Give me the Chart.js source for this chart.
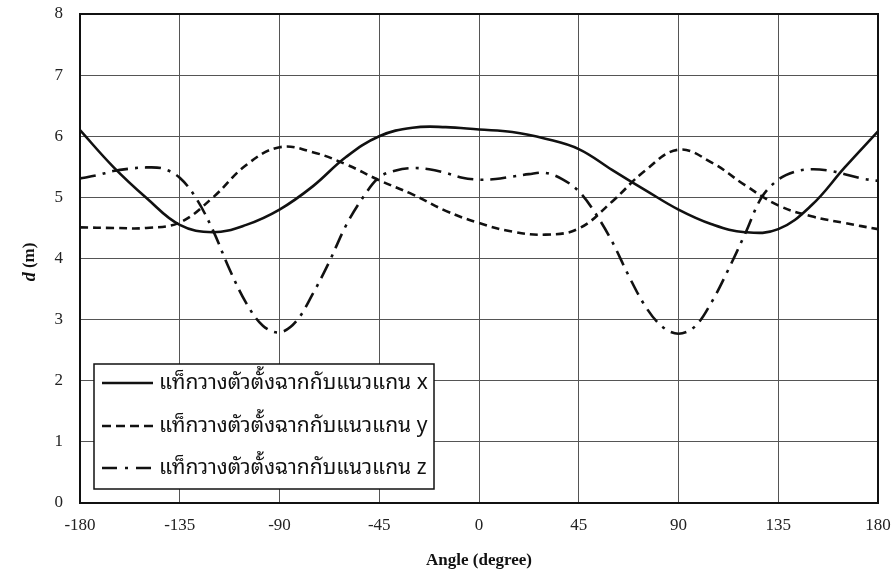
<!DOCTYPE html>
<html><head><meta charset="utf-8">
<script src="https://cdn.jsdelivr.net/npm/chart.js@4/dist/chart.umd.min.js"></script>
<style>html,body{margin:0;padding:0;background:#fff}#wrap{width:894px;height:576px;position:relative}</style>
</head><body><div id="wrap"><canvas id="c" width="894" height="576"></canvas></div>
<script>
// ---- data ----
const anglesXY = [-180,-165,-150,-135,-120,-105,-90,-75,-60,-45,-30,-15,0,15,30,45,60,75,90,105,120,135,150,165,180];
const seriesX  = [6.10,5.50,4.99,4.55,4.43,4.55,4.80,5.18,5.66,6.00,6.14,6.15,6.11,6.07,5.96,5.79,5.45,5.12,4.80,4.56,4.43,4.48,4.87,5.49,6.08];
const seriesY  = [4.51,4.50,4.50,4.59,5.00,5.53,5.82,5.74,5.54,5.28,5.05,4.78,4.58,4.44,4.39,4.49,4.93,5.44,5.78,5.57,5.20,4.87,4.69,4.58,4.48];
const anglesZ  = [-180,-172.5,-165,-157.5,-150,-142.5,-135,-127.5,-120,-112.5,-105,-97.5,-90,-82.5,-75,-67.5,-60,-52.5,-45,-37.5,-30,-22.5,-15,-7.5,0,7.5,15,22.5,30,37.5,45,52.5,60,67.5,75,82.5,90,97.5,105,112.5,120,127.5,135,142.5,150,157.5,165,172.5,180];
const seriesZ  = [5.31,5.36,5.43,5.47,5.49,5.47,5.32,4.98,4.46,3.82,3.27,2.90,2.79,2.97,3.42,3.95,4.54,4.99,5.33,5.44,5.48,5.46,5.40,5.32,5.29,5.30,5.34,5.38,5.40,5.30,5.10,4.74,4.28,3.72,3.22,2.89,2.77,2.89,3.29,3.82,4.40,5.00,5.29,5.42,5.46,5.44,5.38,5.31,5.27];
const xTicks = [-180,-135,-90,-45,0,45,90,135,180];
const yTicks = [0,1,2,3,4,5,6,7,8];
const legendLabels = ['แท็กวางตัวตั้งฉากกับแนวแกน x','แท็กวางตัวตั้งฉากกับแนวแกน y','แท็กวางตัวตั้งฉากกับแนวแกน z'];
const xTitle = 'Angle (degree)';
const yTitleVar = 'd';
const yTitleUnit = ' (m)';

// ---- styles ----
const INK = '#111';
const dashY = [8,5];
const dashZ = [16,7,3,7];
const serif = '"Liberation Serif", "Times New Roman", serif';
const thai = '"Noto Sans Thai Looped", "Loma", "Garuda", "Tahoma", "Noto Sans Thai", "Noto Sans", "DejaVu Sans", sans-serif';

const pts = (xs, ys) => xs.map((a,i)=>({x:a, y:ys[i]}));

const overlay = {
  id:'overlay',
  afterDraw(chart){
    const {ctx, chartArea:a} = chart;
    ctx.save();
    // frame
    ctx.setLineDash([]);
    ctx.strokeStyle = INK; ctx.lineWidth = 2;
    ctx.strokeRect(a.left, a.top, a.right-a.left, a.bottom-a.top);
    // legend
    const bx = 94, by = 364, bw = 340, bh = 125;
    ctx.fillStyle = '#fff';
    ctx.fillRect(bx, by, bw, bh);
    ctx.lineWidth = 1.5; ctx.strokeStyle = INK;
    ctx.strokeRect(bx, by, bw, bh);
    const rows = [19, 62, 104];
    ctx.font = '21px ' + thai;
    ctx.textBaseline = 'middle';
    ctx.textAlign = 'left';
    rows.forEach((ry,i)=>{
      const y = by + ry;
      ctx.beginPath();
      ctx.setLineDash(i===2 ? [15,8,3,8] : (i===1 ? [9,5] : []));
      ctx.lineWidth = 2.5;
      ctx.moveTo(bx+8, y); ctx.lineTo(bx+59, y);
      ctx.stroke();
      ctx.fillStyle = INK;
      ctx.fillText(legendLabels[i], bx+65, y);
    });
    ctx.setLineDash([]);
    // x title
    ctx.fillStyle = INK;
    ctx.font = 'bold 17px ' + serif;
    ctx.textAlign = 'center';
    ctx.fillText(xTitle, (a.left+a.right)/2, 561);
    // y title
    ctx.translate(30, 262);
    ctx.rotate(-Math.PI/2);
    const fItal = 'italic bold 18px ' + serif, fBold = 'bold 17px ' + serif;
    ctx.font = fItal; const w1 = ctx.measureText(yTitleVar).width;
    ctx.font = fBold; const w2 = ctx.measureText(yTitleUnit).width;
    let x0 = -(w1+w2)/2;
    ctx.textAlign = 'left';
    ctx.font = fItal; ctx.fillText(yTitleVar, x0, 0);
    ctx.font = fBold; ctx.fillText(yTitleUnit, x0+w1, 0);
    ctx.restore();
  }
};

new Chart(document.getElementById('c'), {
  type:'line',
  data:{
    datasets:[
      {label:legendLabels[0], data:pts(anglesXY, seriesX), borderColor:INK, borderWidth:2.6, pointRadius:0, tension:0.4, fill:false},
      {label:legendLabels[1], data:pts(anglesXY, seriesY), borderColor:INK, borderWidth:2.6, borderDash:dashY, pointRadius:0, tension:0.4, fill:false},
      {label:legendLabels[2], data:pts(anglesZ, seriesZ), borderColor:INK, borderWidth:2.6, borderDash:dashZ, pointRadius:0, tension:0.35, fill:false}
    ]
  },
  options:{
    responsive:false, animation:false,
    layout:{padding:{top:14, right:16, left:0, bottom:0}},
    plugins:{legend:{display:false}, tooltip:{enabled:false}},
    scales:{
      x:{type:'linear', min:-180, max:180,
        afterBuildTicks:s=>{s.ticks = xTicks.map(v=>({value:v}));},
        afterFit:s=>{s.height = 73; s.paddingLeft = 0; s.paddingRight = 0; s.paddingTop = 0; s.paddingBottom = 0;},
        grid:{color:'#555', lineWidth:1, drawTicks:false},
        border:{display:false},
        ticks:{font:{family:serif, size:17}, color:'#222', padding:12, maxRotation:0, autoSkip:false}
      },
      y:{min:0, max:8,
        afterBuildTicks:s=>{s.ticks = yTicks.map(v=>({value:v}));},
        afterFit:s=>{s.width = 80; s.paddingLeft = 0; s.paddingRight = 0; s.paddingTop = 0; s.paddingBottom = 0;},
        grid:{color:'#555', lineWidth:1, drawTicks:false},
        border:{display:false},
        ticks:{font:{family:serif, size:17}, color:'#222', padding:17}
      }
    }
  },
  plugins:[overlay]
});
</script></body></html>
